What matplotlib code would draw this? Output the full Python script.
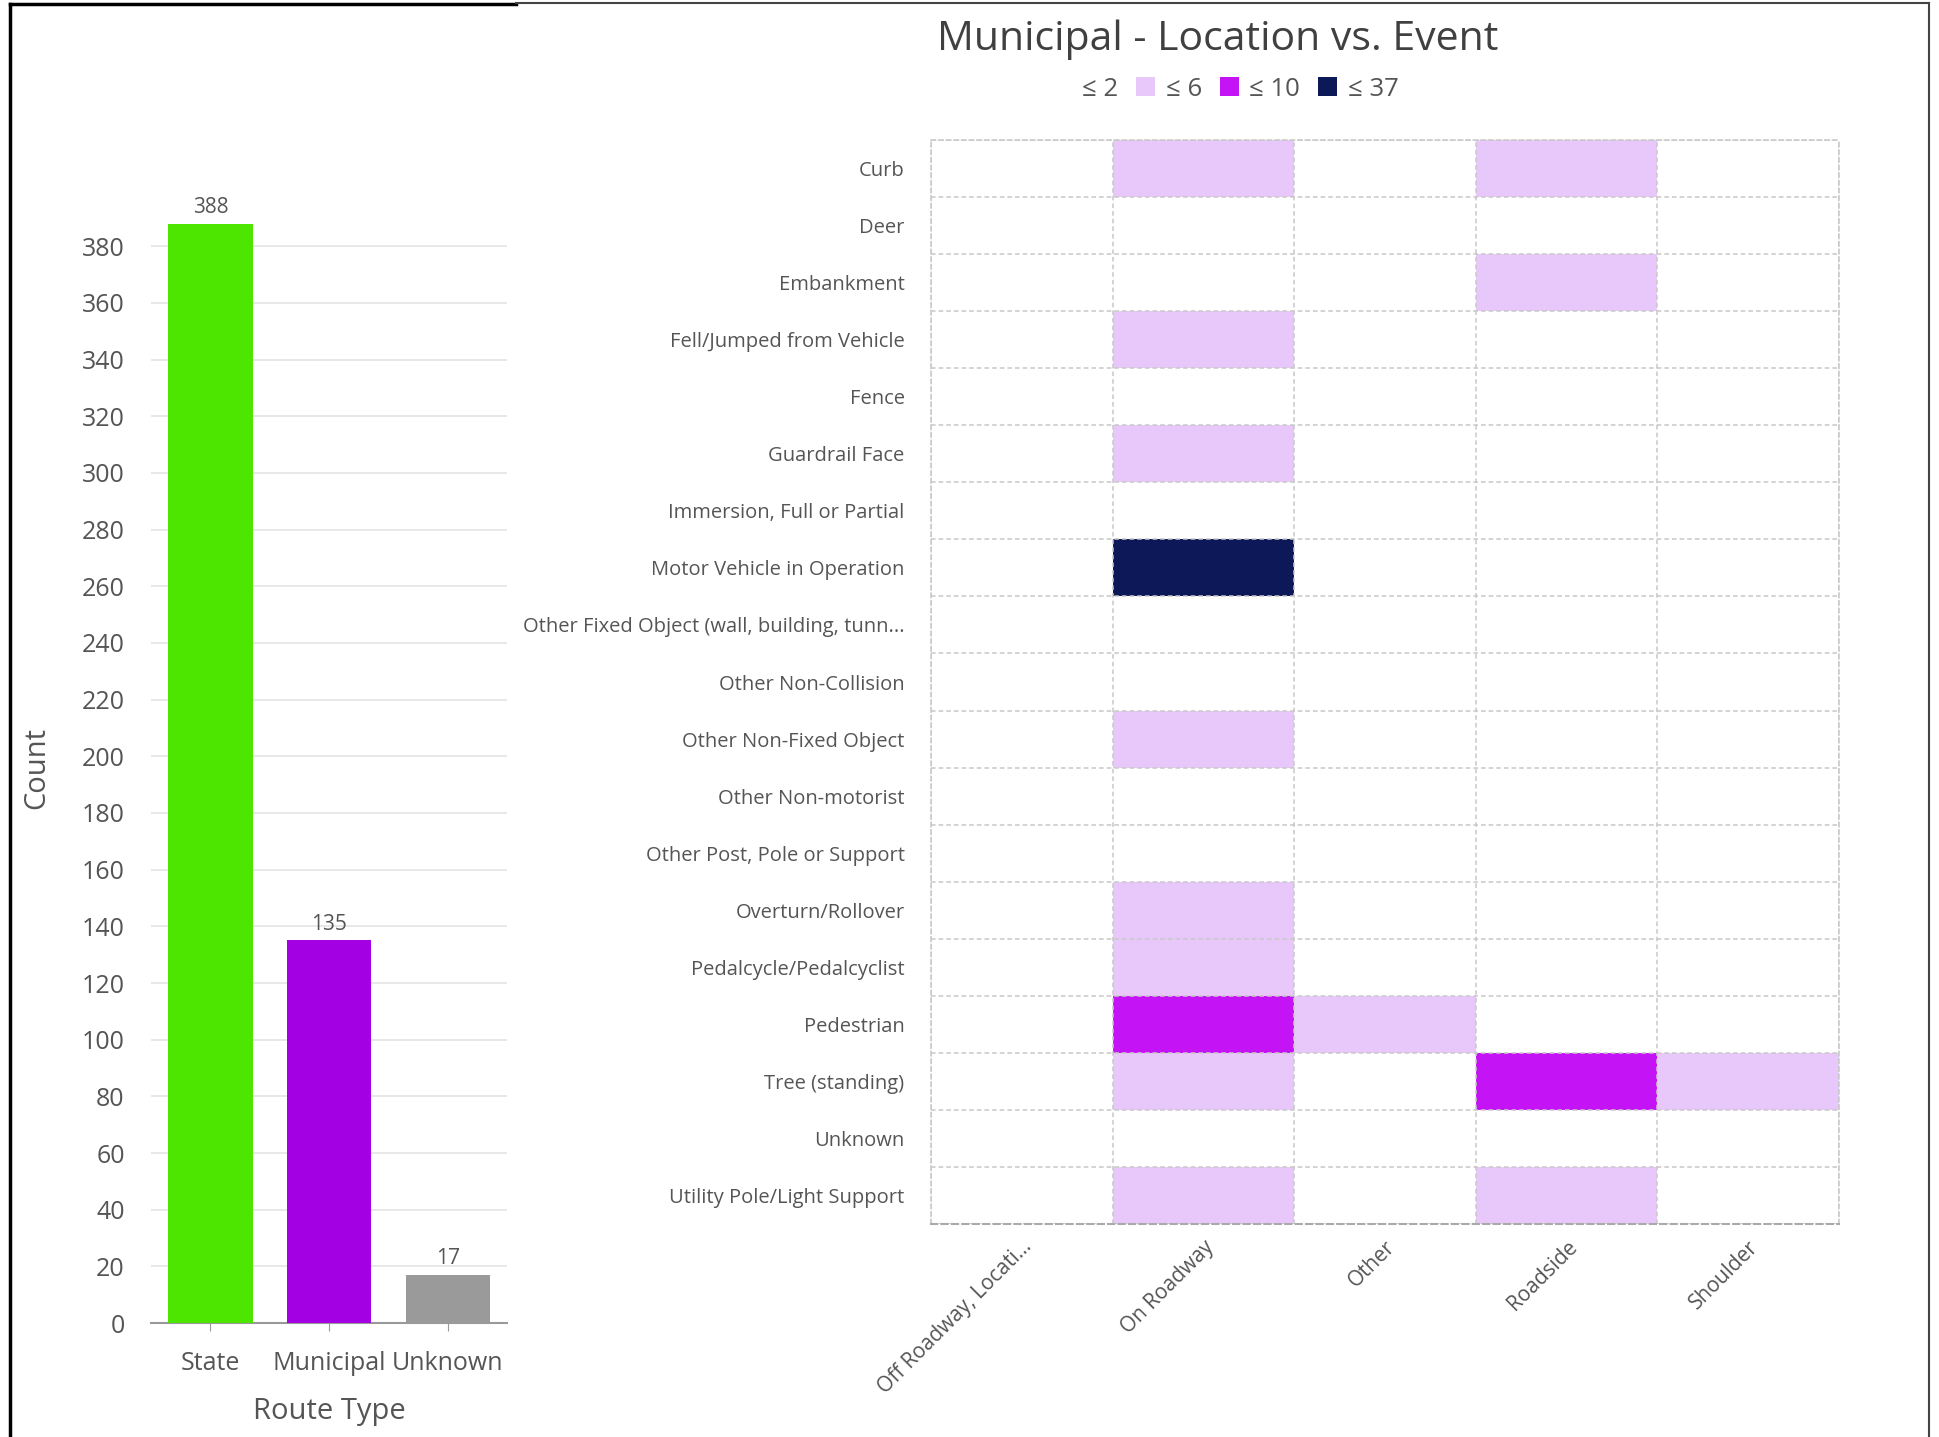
import matplotlib.pyplot as plt
import numpy as np
from matplotlib.colors import ListedColormap, BoundaryNorm
from matplotlib.patches import Patch
from matplotlib.lines import Line2D

plt.rcParams['font.family'] = ['Open Sans', 'DejaVu Sans']

# bar chart data
route_types = ["State", "Municipal", "Unknown"]
route_counts = [388, 135, 17]
bar_colors = ["#4ce600", "#a400e4", "#9a9a9a"]

# heatmap data (municipal crashes)
events = ["Curb", "Deer", "Embankment", "Fell/Jumped from Vehicle", "Fence",
          "Guardrail Face", "Immersion, Full or Partial", "Motor Vehicle in Operation",
          "Other Fixed Object (wall, building, tunn...", "Other Non-Collision",
          "Other Non-Fixed Object", "Other Non-motorist", "Other Post, Pole or Support",
          "Overturn/Rollover", "Pedalcycle/Pedalcyclist", "Pedestrian", "Tree (standing)",
          "Unknown", "Utility Pole/Light Support"]
locations = ["Off Roadway, Locati...", "On Roadway", "Other", "Roadside", "Shoulder"]
# columns: Off Roadway, On Roadway, Other, Roadside, Shoulder
counts = [
    [0, 4, 0, 4, 1],    # Curb
    [1, 2, 0, 0, 0],    # Deer
    [0, 2, 0, 3, 1],    # Embankment
    [0, 3, 0, 0, 0],    # Fell/Jumped
    [0, 1, 0, 2, 0],    # Fence
    [0, 4, 0, 2, 0],    # Guardrail Face
    [0, 0, 0, 1, 0],    # Immersion
    [0, 37, 1, 0, 0],   # Motor Vehicle in Operation
    [0, 1, 0, 2, 0],    # Other Fixed Object
    [0, 2, 0, 0, 0],    # Other Non-Collision
    [0, 3, 0, 0, 0],    # Other Non-Fixed Object
    [0, 2, 0, 0, 0],    # Other Non-motorist
    [0, 0, 0, 2, 0],    # Other Post
    [0, 4, 0, 2, 0],    # Overturn/Rollover
    [0, 3, 0, 0, 0],    # Pedalcycle
    [0, 9, 3, 0, 1],    # Pedestrian
    [0, 5, 1, 8, 3],    # Tree
    [0, 2, 0, 0, 0],    # Unknown
    [0, 4, 0, 3, 1],    # Utility Pole
]
bin_labels = ["\u2264 2", "\u2264 6", "\u2264 10", "\u2264 37"]
bin_edges = [-0.5, 2.5, 6.5, 10.5, 37.5]
bin_colors = ["#ffffff", "#e8c8fa", "#c414f6", "#0c1858"]

text_col = "#555555"

fig = plt.figure(figsize=(19.39, 14.37), dpi=100)

# ---- left: bar chart
ax1 = fig.add_axes([0.0779, 0.0793, 0.1836, 0.773])
x = np.arange(len(route_types))
bars = ax1.bar(x, route_counts, width=0.71, color=bar_colors, zorder=3)
for b, v in zip(bars, route_counts):
    ax1.text(b.get_x() + b.get_width() / 2, v + 2, str(v), ha="center", va="bottom",
             fontsize=15, color=text_col)
ax1.set_xlim(-0.5, 2.5)
ax1.set_ylim(0, 392)
ax1.set_yticks(np.arange(0, 381, 20))
ax1.set_xticks(x)
ax1.set_xticklabels(route_types, fontsize=18, color=text_col)
ax1.tick_params(axis="y", length=0, labelsize=18, labelcolor=text_col, pad=19)
ax1.tick_params(axis="x", length=6, color="#999999", pad=14)
ax1.grid(axis="y", color="#e4e4e4", linewidth=1.2, zorder=0)
for s in ["top", "right", "left"]:
    ax1.spines[s].set_visible(False)
ax1.spines["bottom"].set_color("#999999")
ax1.spines["bottom"].set_linewidth(1.5)
ax1.set_xlabel("Route Type", fontsize=21, color=text_col, labelpad=15)
ax1.set_ylabel("Count", fontsize=21, color=text_col, labelpad=22)

# ---- right: heatmap
ax2 = fig.add_axes([0.4801, 0.1482, 0.4683, 0.7544])
cmap = ListedColormap(bin_colors)
norm = BoundaryNorm(bin_edges, cmap.N)
data = np.array(counts)
ax2.pcolormesh(np.arange(len(locations) + 1), np.arange(len(events) + 1), data,
               cmap=cmap, norm=norm)
ax2.set_xlim(0, len(locations))
ax2.set_ylim(len(events), 0)
ax2.set_xticks(np.arange(len(locations)) + 0.5)
ax2.set_xticklabels(locations, rotation=45, ha="right", rotation_mode="anchor",
                    fontsize=15, color=text_col)
ax2.set_yticks(np.arange(len(events)) + 0.5)
ax2.set_yticklabels(events, fontsize=14.5, color=text_col)
ax2.tick_params(length=0)
ax2.tick_params(axis="y", pad=19)
ax2.tick_params(axis="x", pad=9)
ax2.set_xticks(np.arange(len(locations) + 1), minor=True)
ax2.set_yticks(np.arange(len(events) + 1), minor=True)
ax2.tick_params(which="minor", length=0)
ax2.grid(which="minor", color="#c8c8c8", linestyle=(0, (3, 2)), linewidth=1.1)
ax2.grid(which="major", visible=False)
for s in ax2.spines.values():
    s.set_color("#c8c8c8")
    s.set_linestyle((0, (3, 2)))
    s.set_linewidth(1.1)
ax2.spines["bottom"].set_color("#aaaaaa")
ax2.spines["bottom"].set_linewidth(1.5)

fig.text(0.628, 0.972, "Municipal - Location vs. Event", ha="center", va="center",
         fontsize=29.5, color="#404040")
handles = [Patch(facecolor=c, edgecolor="none") for c in bin_colors]
fig.legend(handles, bin_labels, loc="center", bbox_to_anchor=(0.632, 0.938),
           ncol=4, frameon=False, fontsize=18.5, labelcolor=text_col,
           handlelength=0.75, handleheight=0.75, handletextpad=0.4, columnspacing=0.7)

# panel borders from the screenshot
fig.add_artist(Line2D([0.005, 0.005], [0.0, 0.997], color="black", lw=2.5))
fig.add_artist(Line2D([0.005, 0.266], [0.997, 0.997], color="black", lw=2.5))
fig.add_artist(Line2D([0.266, 0.995], [0.998, 0.998], color="#444444", lw=1.5))
fig.add_artist(Line2D([0.995, 0.995], [0.0, 0.998], color="#444444", lw=1.5))

fig.savefig("out.png", dpi=100, facecolor="white")
